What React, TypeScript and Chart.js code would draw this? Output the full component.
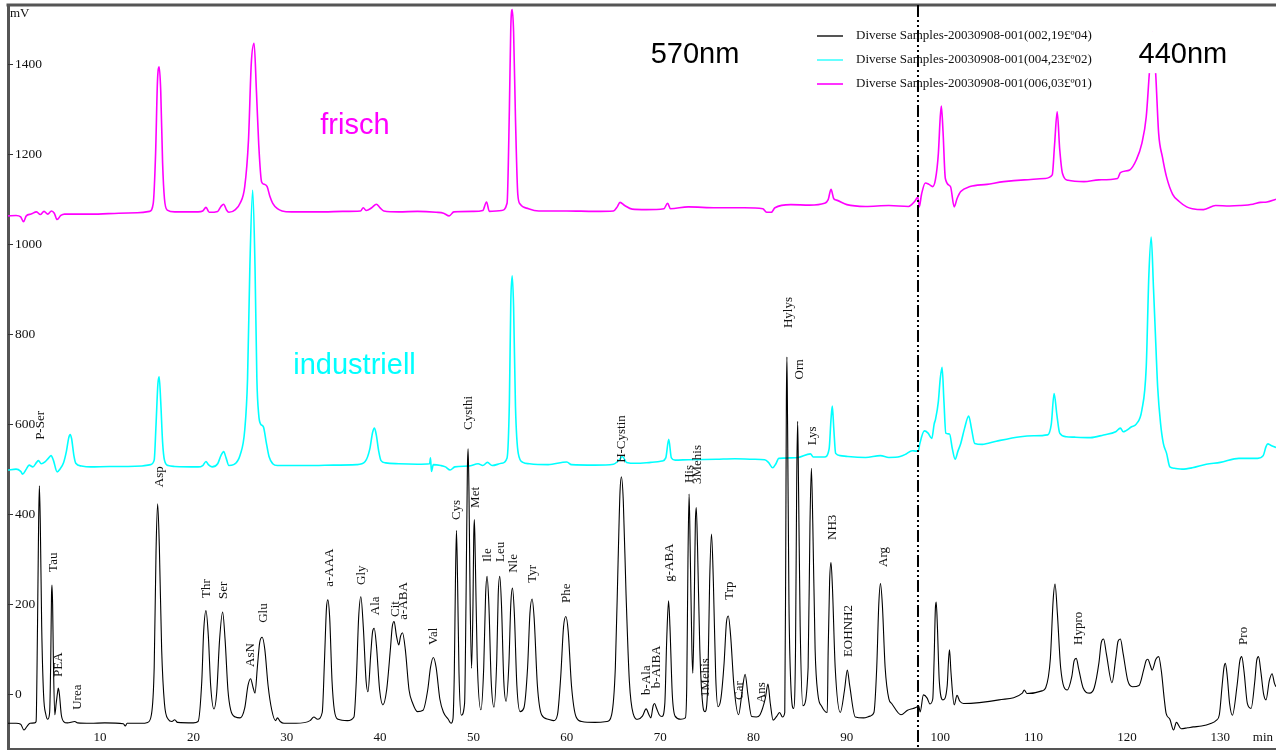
import React, { useEffect, useRef } from "react";
import { Chart, registerables } from "chart.js";

Chart.register(...registerables);

// ---- axes ----
const X_MIN = 0.14;
const X_MAX = 135.97;
const Y_MIN = -121;
const Y_MAX = 1530;
const X_STEP = 10;
const Y_STEP = 200;
const SWITCH_TIME = 97.62;

// ---- series ----
const seriesNames = [
  "Diverse Samples-20030908-001(002,19£º04)",
  "Diverse Samples-20030908-001(004,23£º02)",
  "Diverse Samples-20030908-001(006,03£º01)",
];
const seriesColors = ["#000000", "#00ffff", "#ff00ff"];
const legendColors = ["#555555", "#66ffff", "#ff33ff"];

// [time (min), signal (mV)]
const blackTrace: number[][] = [
  [0.14, -64], [1.0, -64], [1.5, -66], [1.85, -79], [2.2, -70], [2.5, -64], [3.0, -63],
  [3.15, -60], [3.3, 150], [3.42, 380], [3.5, 463], [3.6, 380], [3.75, 150], [3.95, 0], [4.2, -45], [4.4, -55],
  [4.6, -40], [4.72, 80], [4.8, 220], [4.85, 243], [4.92, 200], [5.0, 80], [5.15, -45],
  [5.3, -20], [5.45, 5], [5.53, 14], [5.65, 0], [5.85, -45], [6.1, -60], [6.5, -63], [7.3, -60], [7.6, -63],
  [9.0, -64], [10.5, -63], [12.5, -65], [12.7, -70], [12.9, -64], [14.5, -64], [15.1, -62],
  [15.5, -45], [15.8, 60], [16.0, 320], [16.17, 423], [16.35, 330], [16.6, 100], [16.9, -20], [17.3, -55],
  [17.7, -60], [18.0, -56], [18.3, -62], [20.0, -63], [20.5, -60],
  [20.9, 30], [21.1, 140], [21.35, 186], [21.6, 130], [21.85, 20], [22.2, -32],
  [22.5, 5], [22.8, 120], [23.13, 183], [23.4, 120], [23.7, 10], [24.0, -35], [24.5, -50], [25.0, -52],
  [25.5, -30], [25.85, 20], [26.13, 35], [26.4, 15], [26.6, 3],
  [26.85, 60], [27.1, 115], [27.37, 127], [27.65, 100], [28.0, 20], [28.4, -35], [28.8, -58], [29.0, -52],
  [29.3, -60], [29.7, -64], [31.0, -64], [32.5, -58], [32.9, -50], [33.3, -55],
  [33.8, -40], [34.05, 80], [34.25, 190], [34.4, 210], [34.6, 170], [34.85, 30], [35.1, -35], [35.5, -55],
  [36.5, -58], [37.2, -50],
  [37.45, 30], [37.7, 170], [37.94, 217], [38.2, 150], [38.5, 30], [38.7, 6],
  [39.0, 90], [39.2, 140], [39.37, 147], [39.6, 110], [39.95, 10], [40.3, -23], [40.7, 10],
  [41.1, 100], [41.3, 150], [41.5, 162], [41.75, 130], [42.0, 110],
  [42.2, 130], [42.4, 137], [42.7, 100], [43.1, 10], [43.5, -20], [44.0, -38], [44.6, -35],
  [45.1, 10], [45.4, 60], [45.7, 82], [46.0, 60], [46.4, -10], [46.8, -40], [47.3, -55], [47.6, -64], [47.8, -55],
  [47.95, 50], [48.07, 250], [48.18, 364], [48.3, 250], [48.45, 50], [48.7, -46],
  [49.05, -20], [49.2, 200], [49.35, 500], [49.43, 545], [49.52, 450], [49.65, 200], [49.8, 58],
  [49.95, 200], [50.03, 350], [50.1, 388], [50.2, 300], [50.4, 80], [50.8, -34],
  [51.1, 60], [51.3, 220], [51.46, 262], [51.65, 200], [51.9, 30], [52.2, -28],
  [52.5, 80], [52.65, 220], [52.82, 262], [53.0, 200], [53.25, 30], [53.5, -15],
  [53.8, 70], [54.0, 200], [54.18, 236], [54.38, 180], [54.65, 20], [55.0, -38], [55.4, -30],
  [55.8, 60], [56.05, 180], [56.28, 212], [56.5, 170], [56.85, 20], [57.3, -45], [58.0, -55], [58.6, -58], [59.0, -45],
  [59.35, 40], [59.65, 150], [59.9, 173], [60.15, 140], [60.5, 20], [61.0, -50], [61.6, -60], [63.0, -62],
  [64.3, -60], [64.8, -45],
  [65.2, 60], [65.5, 300], [65.7, 450], [65.85, 483], [66.05, 430], [66.35, 220], [66.7, 30], [67.1, -42],
  [67.6, -55], [68.1, -48],
  [68.5, -32], [68.8, -45], [69.0, -52],
  [69.25, -25], [69.4, -20], [69.6, -30], [69.9, -45], [70.2, -49],
  [70.5, -20], [70.7, 120], [70.9, 208], [71.05, 150], [71.3, 0], [71.6, -48], [72.2, -55], [72.7, -52],
  [72.85, 20], [72.98, 300], [73.1, 445], [73.22, 320], [73.4, 100], [73.5, 47],
  [73.65, 200], [73.77, 380], [73.87, 415], [74.0, 330], [74.25, 100], [74.55, -20], [74.8, -38],
  [75.1, 20], [75.3, 250], [75.5, 356], [75.7, 250], [75.95, 40], [76.2, -27], [76.5, -10],
  [76.85, 70], [77.1, 160], [77.3, 174], [77.55, 130], [77.9, 20], [78.4, -45],
  [78.8, 10], [79.1, 45], [79.4, 0], [79.8, -49], [80.3, -50], [80.7, -45],
  [81.25, -10], [81.55, 23], [81.8, -20], [82.1, -57], [82.5, -48], [82.8, -40], [83.1, -50], [83.35, -40],
  [83.45, 300], [83.52, 650], [83.58, 749], [83.65, 600], [83.8, 200], [84.0, 20], [84.3, -31],
  [84.5, 100], [84.63, 480], [84.73, 606], [84.83, 450], [85.0, 150], [85.3, -25],
  [85.85, 60], [86.05, 380], [86.2, 502], [86.35, 380], [86.6, 100], [86.9, 0], [87.3, -26], [87.9, -40],
  [88.0, 100], [88.15, 250], [88.3, 293], [88.45, 240], [88.75, 60], [89.3, -40],
  [89.75, 10], [90.05, 54], [90.3, 20], [90.9, -50], [91.8, -52], [92.5, -48], [92.9, -40],
  [93.2, 60], [93.42, 200], [93.6, 246], [93.8, 200], [94.1, 60], [94.5, -10], [94.8, -20], [95.8, -45],
  [96.5, -35], [97.1, -31], [97.5, -28], [97.7, -25], [97.85, -39], [98.2, -1], [98.6, -8], [98.9, -21], [99.2, -10],
  [99.35, 80], [99.48, 190], [99.57, 205], [99.7, 150], [99.9, 30], [100.3, -12],
  [100.75, 20], [100.9, 80], [101.0, 99], [101.15, 50], [101.5, -23], [101.8, -2], [102.1, -15], [102.5, -20],
  [104.2, -18], [106.3, -12], [108.8, 3], [109.0, 10], [109.3, 2], [110.9, 8], [111.3, 15],
  [111.8, 80], [112.1, 210], [112.3, 245], [112.55, 180], [112.9, 60], [113.6, 10],
  [114.1, 40], [114.35, 75], [114.57, 80], [114.85, 55], [115.3, 15], [116.0, 3], [116.5, 15],
  [117.0, 70], [117.25, 115], [117.5, 123], [117.8, 90], [118.4, 26],
  [118.8, 80], [119.05, 118], [119.3, 123], [119.6, 90], [120.1, 30], [120.6, 17], [121.3, 20],
  [121.8, 55], [122.05, 75], [122.24, 78], [122.5, 65], [122.7, 54],
  [123.1, 78], [123.4, 84], [123.7, 50], [124.0, -10], [124.2, -42], [124.6, -55], [125.0, -79], [125.3, -62],
  [125.8, -76], [126.5, -74], [127.1, -72], [128.0, -70], [128.9, -65], [129.6, -57], [129.9, -45],
  [130.2, 20], [130.4, 60], [130.55, 69], [130.75, 40], [131.0, -20], [131.3, -46],
  [131.8, 20], [132.1, 75], [132.3, 84], [132.55, 50], [132.9, -20], [133.3, -31],
  [133.7, 30], [133.9, 75], [134.1, 84], [134.35, 50], [134.65, 0], [134.9, -12],
  [135.25, 30], [135.55, 46], [135.8, 25], [135.97, 17],
];

const cyanTrace: number[][] = [
  [0.14, 498], [1.0, 500], [1.5, 495], [1.7, 489], [2.1, 500], [2.4, 509], [2.8, 505], [3.2, 515], [3.4, 519],
  [3.7, 512], [4.1, 516], [4.5, 525], [4.75, 530], [5.0, 520], [5.4, 494], [5.7, 500], [6.1, 515], [6.4, 540],
  [6.65, 570], [6.8, 577], [6.95, 568], [7.2, 530], [7.4, 513], [8.0, 507], [9.0, 505], [11.0, 506], [13.0, 506],
  [14.5, 507], [15.4, 510], [15.8, 520], [16.0, 600], [16.2, 690], [16.33, 705], [16.5, 650], [16.7, 560],
  [16.9, 520], [17.3, 508], [18.0, 506], [20.5, 505], [21.0, 508], [21.35, 517], [21.6, 510], [22.0, 505],
  [22.6, 512], [22.95, 530], [23.24, 539], [23.5, 525], [23.8, 508], [24.3, 510], [25.0, 531], [25.5, 587],
  [25.8, 700], [26.05, 950], [26.35, 1119], [26.6, 950], [26.8, 700], [27.0, 620], [27.2, 600], [27.5, 594],
  [27.8, 560], [28.1, 528], [28.5, 512], [29.0, 508], [33.0, 508], [35.0, 509], [37.5, 510], [38.4, 517],
  [38.9, 545], [39.2, 582], [39.4, 591], [39.6, 575], [39.85, 540], [40.1, 519], [40.6, 514], [42.0, 512],
  [44.0, 511], [45.3, 512], [45.4, 525], [45.5, 495], [45.7, 510], [46.5, 508], [47.0, 505], [47.5, 498],
  [48.0, 505], [49.5, 507], [50.5, 512], [51.0, 508], [51.5, 515], [52.0, 508], [53.0, 513], [53.6, 525],
  [53.85, 650], [54.0, 870], [54.15, 929], [54.3, 860], [54.5, 640], [54.8, 535], [55.3, 515], [56.0, 512],
  [58.0, 510], [60.0, 516], [60.5, 510], [63.0, 509], [65.0, 511], [65.6, 520], [65.95, 528], [66.4, 515],
  [67.4, 513], [69.0, 515], [70.2, 518], [70.6, 525], [70.92, 566], [71.2, 525], [71.6, 520], [73.0, 521],
  [76.0, 522], [78.0, 523], [80.0, 522], [81.2, 521], [81.6, 515], [82.06, 503], [82.4, 512], [82.7, 524],
  [84.0, 525], [84.8, 526], [86.1, 534], [86.4, 527], [87.6, 527], [88.1, 545], [88.3, 610], [88.44, 640],
  [88.6, 590], [88.8, 535], [89.3, 530], [90.1, 528], [92.0, 526], [93.6, 530], [94.5, 526], [95.7, 528],
  [96.3, 533], [97.0, 541], [97.4, 540], [97.66, 540], [97.8, 555], [98.3, 585], [98.7, 580], [99.1, 568],
  [99.35, 600], [99.5, 611], [99.8, 650], [100.0, 700], [100.2, 726], [100.4, 650], [100.6, 580], [101.0, 578],
  [101.3, 545], [101.6, 522], [101.9, 540], [102.2, 557], [102.6, 590], [103.05, 618], [103.35, 590],
  [103.7, 557], [104.5, 555], [106.0, 562], [108.6, 572], [110.0, 574], [111.5, 576], [111.9, 600],
  [112.2, 668], [112.5, 620], [112.8, 580], [113.5, 572], [114.4, 571], [116.1, 570], [117.5, 576],
  [118.8, 583], [119.3, 591], [119.6, 583], [120.5, 594], [121.0, 600], [121.6, 631], [122.07, 727],
  [122.35, 930], [122.6, 1015], [122.85, 900], [123.05, 800], [123.3, 680], [123.6, 602], [123.9, 557],
  [124.25, 535], [124.6, 505], [125.1, 502], [125.9, 500], [127.0, 503], [128.5, 511], [130.0, 515],
  [132.0, 524], [134.0, 524], [134.6, 530], [134.9, 550], [135.1, 556], [135.4, 553], [135.97, 548],
];

const magentaTrace: number[][] = [
  [0.14, 1062], [1.0, 1063], [1.5, 1060], [1.8, 1049], [2.1, 1062], [2.6, 1066], [3.2, 1071], [3.6, 1065],
  [4.0, 1072], [4.4, 1066], [4.8, 1073], [5.1, 1068], [5.4, 1054], [5.8, 1063], [6.2, 1066], [9.0, 1066],
  [12.0, 1068], [14.0, 1069], [15.3, 1072], [15.7, 1090], [15.95, 1200], [16.15, 1360], [16.33, 1393],
  [16.5, 1340], [16.7, 1180], [16.9, 1100], [17.2, 1075], [18.0, 1071], [20.5, 1071], [21.0, 1073],
  [21.35, 1081], [21.7, 1070], [22.6, 1072], [22.95, 1083], [23.24, 1088], [23.55, 1075], [23.8, 1070],
  [24.5, 1076], [25.0, 1090], [25.5, 1127], [25.9, 1230], [26.2, 1400], [26.5, 1445], [26.75, 1340],
  [27.0, 1220], [27.3, 1138], [27.6, 1132], [27.9, 1127], [28.2, 1105], [28.5, 1090], [29.0, 1078],
  [29.5, 1073], [30.5, 1071], [34.0, 1071], [36.0, 1072], [37.9, 1073], [38.2, 1080], [38.5, 1074],
  [39.1, 1080], [39.6, 1088], [40.0, 1080], [40.4, 1073], [42.0, 1071], [44.0, 1072], [46.0, 1070],
  [46.8, 1068], [47.4, 1062], [47.9, 1071], [50.0, 1072], [51.0, 1074], [51.4, 1093], [51.7, 1072],
  [53.0, 1074], [53.6, 1090], [53.85, 1300], [54.0, 1480], [54.15, 1520], [54.3, 1470], [54.5, 1280],
  [54.75, 1110], [55.0, 1088], [55.9, 1078], [57.0, 1073], [60.0, 1073], [63.0, 1072], [65.0, 1073],
  [65.4, 1082], [65.7, 1092], [66.2, 1085], [67.0, 1077], [68.5, 1076], [70.4, 1078], [70.8, 1090],
  [71.1, 1078], [73.0, 1082], [76.0, 1080], [79.0, 1080], [81.0, 1078], [81.4, 1070], [81.9, 1070],
  [82.3, 1080], [84.0, 1087], [86.0, 1086], [87.6, 1090], [88.0, 1098], [88.3, 1121], [88.6, 1100],
  [88.9, 1097], [90.0, 1087], [92.0, 1083], [94.5, 1085], [96.6, 1083], [97.3, 1095], [97.6, 1104],
  [97.75, 1082], [98.0, 1110], [98.4, 1135], [98.8, 1132], [99.2, 1127], [99.5, 1144], [99.8, 1200],
  [100.0, 1280], [100.12, 1306], [100.3, 1250], [100.55, 1145], [101.1, 1127], [101.5, 1082], [101.8, 1100],
  [102.2, 1116], [103.2, 1127], [105.0, 1132], [106.8, 1138], [109.0, 1142], [111.2, 1145], [112.0, 1153],
  [112.25, 1220], [112.53, 1293], [112.8, 1210], [113.1, 1156], [113.7, 1141], [115.4, 1138], [117.0, 1142],
  [119.0, 1145], [119.3, 1158], [120.3, 1164], [121.0, 1186], [121.6, 1223], [122.07, 1282], [122.4, 1378],
  [122.74, 1470], [123.08, 1378], [123.4, 1245], [123.8, 1193], [124.25, 1148], [124.9, 1110], [125.6, 1094],
  [126.4, 1082], [127.0, 1078], [128.2, 1076], [129.5, 1085], [131.0, 1084], [132.1, 1085], [133.5, 1088],
  [134.3, 1092], [135.0, 1093], [135.97, 1099],
];

// ---- peak labels: name, retention time, signal level at the start of the text ----
const peakNames = [
  "P-Ser", "Tau", "PEA", "Urea", "Asp", "Thr", "Ser", "AsN", "Glu", "a-AAA", "Gly", "Ala", "Cit", "a-ABA",
  "Val", "Cys", "Cysthi", "Met", "Ile", "Leu", "Nle", "Tyr", "Phe", "H-Cystin", "b-Ala", "b-AIBA", "g-ABA",
  "His", "3Mehis", "1Mehis", "Trp", "Car", "Ans", "Hylys", "Orn", "Lys", "NH3", "EOHNH2", "Arg", "Hypro", "Pro",
];
const peakTimes = [
  3.64, 5.07, 5.6, 7.56, 16.35, 21.42, 23.28, 26.14, 27.49, 34.63, 38.03, 39.56, 41.67, 42.56,
  45.77, 48.2, 49.45, 50.27, 51.53, 52.92, 54.27, 56.35, 59.99, 65.88, 68.56, 69.63, 71.06,
  73.12, 73.98, 74.91, 77.48, 78.48, 80.88, 83.8, 84.9, 86.3, 88.44, 90.2, 93.9, 114.8, 132.47,
];
const peakLabelMv = [
  565, 272, 39, -34, 460, 214, 212, 61, 159, 239, 243, 176, 172, 166,
  110, 387, 587, 414, 294, 294, 270, 248, 203, 514, -1, 14, 250,
  469, 467, -6, 210, -12, -19, 813, 699, 553, 343, 83, 283, 110, 110,
];

// ---- annotations ----
const wavelengthNames = ["570nm", "440nm"];
const wavelengthTimes = [73.73, 126.0];
const wavelengthMv = [1401, 1401];
const sampleNames = ["frisch", "industriell"];
const sampleTimes = [37.3, 37.26];
const sampleMv = [1243, 711];
const sampleColors = ["#ff00ff", "#00ffff"];

const SERIF = '"Liberation Serif", "Times New Roman", serif';
const SANS = '"Liberation Sans", Arial, sans-serif';

const decorPlugin = {
  id: "decor",
  afterDraw(chart: any) {
    const { ctx, chartArea: a, scales } = chart;
    const xs = scales.x;
    const ys = scales.y;
    ctx.save();

    // top frame line
    ctx.strokeStyle = "#555555";
    ctx.lineWidth = 3;
    ctx.beginPath();
    ctx.moveTo(a.left - 1.5, a.top);
    ctx.lineTo(a.right, a.top);
    ctx.stroke();

    // y ticks: short inner marks + labels
    ctx.fillStyle = "#111111";
    ctx.strokeStyle = "#333333";
    ctx.lineWidth = 1;
    ctx.font = `13.5px ${SERIF}`;
    ctx.textAlign = "left";
    ctx.textBaseline = "middle";
    for (const t of ys.ticks) {
      const py = Math.round(ys.getPixelForValue(t.value)) + 0.5;
      ctx.beginPath();
      ctx.moveTo(a.left, py);
      ctx.lineTo(a.left + 5, py);
      ctx.stroke();
      ctx.fillText(String(t.value), a.left + 7, py);
    }

    // x tick labels (inside, above the axis)
    ctx.font = `13px ${SERIF}`;
    ctx.textAlign = "center";
    for (const t of xs.ticks) {
      ctx.fillText(String(t.value), xs.getPixelForValue(t.value), a.bottom - 11);
    }

    // wavelength switch line (dash-dot-dot)
    const sx = xs.getPixelForValue(SWITCH_TIME);
    ctx.strokeStyle = "#000000";
    ctx.lineWidth = 2;
    ctx.setLineDash([12, 3, 2, 3, 2, 3]);
    ctx.beginPath();
    ctx.moveTo(sx, a.top);
    ctx.lineTo(sx, a.bottom);
    ctx.stroke();
    ctx.setLineDash([]);

    // peak labels (rotated)
    ctx.fillStyle = "#111111";
    ctx.font = `13px ${SERIF}`;
    ctx.textAlign = "left";
    ctx.textBaseline = "middle";
    for (let i = 0; i < peakNames.length; i++) {
      const px = xs.getPixelForValue(peakTimes[i]);
      const py = ys.getPixelForValue(peakLabelMv[i]);
      ctx.save();
      ctx.translate(px, py);
      ctx.rotate(-Math.PI / 2);
      ctx.fillText(peakNames[i], 0, 0);
      ctx.restore();
    }

    // unit labels
    ctx.font = `13px ${SERIF}`;
    ctx.textAlign = "left";
    ctx.fillText("mV", a.left + 2, a.top + 9);
    ctx.textAlign = "right";
    ctx.fillText("min", a.right - 3, a.bottom - 11);

    // legend
    const ds = chart.data.datasets;
    for (let i = 0; i < ds.length; i++) {
      const ly = 36 + i * 24;
      ctx.strokeStyle = legendColors[i];
      ctx.lineWidth = 2;
      ctx.beginPath();
      ctx.moveTo(817, ly);
      ctx.lineTo(843, ly);
      ctx.stroke();
      ctx.fillStyle = "#111111";
      ctx.textAlign = "left";
      ctx.textBaseline = "middle";
      ctx.font = `13px ${SERIF}`;
      ctx.fillText(ds[i].label, 856, ly);
    }

    // wavelength annotations (with white box)
    ctx.font = `29px ${SANS}`;
    ctx.textAlign = "center";
    ctx.textBaseline = "alphabetic";
    for (let i = 0; i < wavelengthNames.length; i++) {
      const wx = xs.getPixelForValue(wavelengthTimes[i]);
      const wy = ys.getPixelForValue(wavelengthMv[i]);
      const w = ctx.measureText(wavelengthNames[i]).width;
      ctx.fillStyle = "#ffffff";
      ctx.fillRect(wx - w / 2 - 4, wy - 32, w + 8, 42);
      ctx.fillStyle = "#000000";
      ctx.fillText(wavelengthNames[i], wx, wy);
    }

    // sample annotations
    for (let i = 0; i < sampleNames.length; i++) {
      ctx.fillStyle = sampleColors[i];
      ctx.fillText(sampleNames[i], xs.getPixelForValue(sampleTimes[i]), ys.getPixelForValue(sampleMv[i]));
    }

    ctx.restore();
  },
};

export default function App() {
  const canvasRef = useRef<HTMLCanvasElement | null>(null);

  useEffect(() => {
    if (!canvasRef.current) return;
    const traces = [blackTrace, cyanTrace, magentaTrace];
    const widths = [1.1, 1.6, 1.6];
    const chart = new Chart(canvasRef.current, {
      type: "line",
      data: {
        datasets: traces.map((tr, i) => ({
          label: seriesNames[i],
          data: tr.map((p) => ({ x: p[0], y: p[1] })),
          borderColor: seriesColors[i],
          backgroundColor: seriesColors[i],
          borderWidth: widths[i],
          pointRadius: 0,
          fill: false,
          cubicInterpolationMode: "monotone" as const,
        })),
      },
      options: {
        animation: false,
        responsive: false,
        maintainAspectRatio: false,
        events: [],
        layout: { padding: { top: 5, left: 0, right: 0, bottom: 0 } },
        plugins: { legend: { display: false }, tooltip: { enabled: false } },
        scales: {
          x: {
            type: "linear",
            position: "bottom",
            min: X_MIN,
            max: X_MAX,
            grid: { display: false, drawTicks: false },
            border: { display: true, color: "#555555", width: 2 },
            ticks: { display: false, stepSize: X_STEP, includeBounds: false, autoSkip: false, maxRotation: 0 },
            afterFit: (s: any) => {
              s.height = 2;
            },
          },
          y: {
            type: "linear",
            position: "left",
            min: Y_MIN,
            max: Y_MAX,
            grid: { display: false, drawTicks: false },
            border: { display: true, color: "#555555", width: 3 },
            ticks: { display: false, stepSize: Y_STEP, includeBounds: false, autoSkip: false },
            afterFit: (s: any) => {
              s.width = 8;
            },
          },
        },
      },
      plugins: [decorPlugin],
    } as any);
    return () => chart.destroy();
  }, []);

  return (
    <div style={{ position: "fixed", left: 0, top: 0, width: 1276, height: 751, background: "#ffffff" }}>
      <canvas ref={canvasRef} width={1276} height={751} style={{ display: "block" }} />
    </div>
  );
}
